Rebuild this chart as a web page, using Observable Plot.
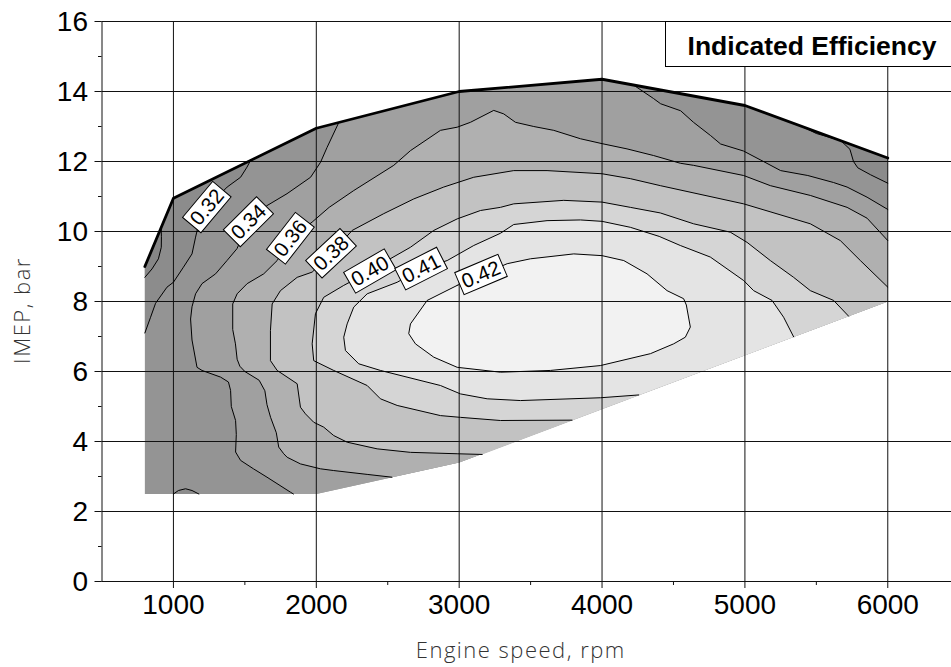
<!DOCTYPE html>
<html><head><meta charset="utf-8">
<script src="https://cdn.jsdelivr.net/npm/d3@7"></script>
<script src="https://cdn.jsdelivr.net/npm/@observablehq/plot@0.6"></script>
<style>
body{margin:0;background:#fff;}
#chart{position:relative;width:951px;height:667px;}
</style></head><body><div id="chart"></div>
<script>
// ---------- data ----------
const xTicks = [1000, 2000, 3000, 4000, 5000, 6000];
const xMinor = [1500, 2500, 3500, 4500, 5500];
const yTicks = [0, 2, 4, 6, 8, 10, 12, 14, 16];
const yMinor = [1, 3, 5, 7, 9, 11, 13, 15];

// envelope of the measured map [rpm, IMEP]
const topEdge = [[800,9.0],[1000,10.95],[2000,12.95],[3000,14.0],[4000,14.35],[5000,13.6],[6000,12.1]];
const bottomEdge = [[6000,8.0],[3000,3.4],[2000,2.5],[800,2.5]];

// iso-efficiency lines [rpm, IMEP]
const c030 = [[800,8.69],[850,8.93],[895,9.22],[915,9.55],[916,9.85],[914,10.11]];
const c032L = [[800,7.1],[840,7.55],[875,7.95],[955,8.41],[1000,8.55],[1070,8.98],[1130,9.36],[1155,9.84],[1170,10.1],[1236,10.69],[1376,11.27],[1470,11.55],[1515,11.84],[1540,12.03]];
const c032B = [[1000,2.5],[1035,2.6],[1085,2.65],[1130,2.6],[1178,2.5]];
const c032R = [[5410,12.98],[5500,12.8],[5670,12.6],[5735,12.35],[5760,12.0],[5790,11.82],[5880,11.62],[6000,11.38]];
const c034 = [[1840,2.5],[1820,2.55],[1655,2.98],[1560,3.22],[1470,3.46],[1435,3.7],[1440,4.2],[1435,4.6],[1405,5.0],[1400,5.46],[1385,5.7],[1330,5.84],[1200,6.03],[1165,6.12],[1130,6.9],[1120,7.5],[1130,7.85],[1155,8.22],[1200,8.51],[1295,8.79],[1375,9.17],[1445,9.51],[1527,10.27],[1655,10.74],[1795,11.08],[1960,11.55],[2030,11.98],[2075,12.4],[2157,13.11]];
const c034R = [[4222,14.18],[4360,13.8],[4410,13.65],[4550,13.45],[4640,13.12],[4760,12.74],[4830,12.5],[4990,12.3],[5130,12.0],[5250,11.74],[5440,11.6],[5620,11.4],[5715,11.27],[5855,10.98],[6000,10.63]];
const c036 = [[2529,2.98],[2356,3.06],[2122,3.17],[2029,3.22],[1889,3.36],[1796,3.55],[1772,3.65],[1737,3.84],[1720,4.25],[1680,4.69],[1655,5.05],[1640,5.45],[1600,5.75],[1500,6.0],[1465,6.15],[1446,6.35],[1434,6.79],[1415,7.2],[1415,7.93],[1446,8.22],[1516,8.51],[1632,8.79],[1726,9.17],[1821,9.8],[1971,10.27],[2090,10.69],[2262,11.17],[2542,11.89],[2659,12.31],[2869,12.89],[2986,12.98],[3079,13.12],[3242,13.46],[3312,13.36],[3394,13.12],[3522,13.0],[3662,12.89],[3849,12.65],[4000,12.51],[4175,12.36],[4361,12.17],[4548,11.95],[4641,11.89],[4991,11.6],[5178,11.31],[5458,11.03],[5715,10.69],[5855,10.38],[6000,9.74]];
const c038 = [[3161,3.63],[2986,3.65],[2659,3.69],[2426,3.79],[2216,3.98],[2122,4.17],[2052,4.41],[1982,4.55],[1924,4.79],[1889,4.98],[1866,5.65],[1726,6.03],[1679,6.31],[1679,7.17],[1691,7.93],[1749,8.31],[1866,8.69],[1971,8.84],[2105,9.37],[2251,10.03],[2472,10.51],[2682,10.93],[2892,11.27],[3102,11.55],[3382,11.74],[3615,11.74],[4000,11.65],[4198,11.51],[4408,11.31],[4991,10.79],[5458,10.22],[5668,9.74],[5808,9.17],[6000,8.41]];
const c040 = [[3790,4.61],[3289,4.6],[3009,4.69],[2869,4.74],[2566,5.03],[2449,5.22],[2356,5.6],[2122,6.03],[1982,6.31],[1971,6.79],[1994,7.65],[2052,8.12],[2192,8.46],[2377,8.86],[2496,9.17],[2659,9.55],[2822,10.03],[2986,10.36],[3149,10.6],[3289,10.69],[3382,10.79],[3732,10.89],[4000,10.84],[4198,10.69],[4408,10.53],[4641,10.22],[4898,9.98],[5015,9.69],[5178,9.17],[5341,8.69],[5458,8.31],[5621,8.03],[5726,7.58]];
const c041 = [[4257,5.33],[3989,5.25],[3429,5.17],[3196,5.22],[3009,5.36],[2869,5.6],[2449,6.03],[2297,6.22],[2204,6.6],[2192,6.98],[2216,7.36],[2262,7.84],[2356,8.22],[2566,8.55],[2735,8.93],[2916,9.17],[3102,9.6],[3289,9.95],[3382,10.2],[3615,10.31],[3849,10.33],[4000,10.29],[4198,10.12],[4400,9.86],[4548,9.6],[4758,9.27],[4991,8.6],[5061,8.31],[5190,8.03],[5271,7.55],[5341,6.99]];
const c042 = [[2986,8.46],[2776,8.03],[2659,7.36],[2647,7.08],[2694,6.79],[2822,6.41],[2986,6.12],[3289,5.98],[3639,6.03],[3989,6.17],[4339,6.51],[4501,6.79],[4583,6.98],[4618,7.27],[4590,7.9],[4571,8.08],[4455,8.31],[4315,8.79],[4152,9.17],[4000,9.31],[3802,9.36],[3499,9.22],[3336,9.08],[3154,8.76]];

// contour labels
const labelText  = ["0.32","0.34","0.36","0.38","0.40","0.41","0.42"];
const labelRpm   = [1236, 1527, 1821, 2105, 2377, 2735, 3154];
const labelImep  = [10.69, 10.27, 9.8, 9.37, 8.86, 8.93, 8.76];
const labelAngle = [-50, -45, -52, -43, -30, -27, -23];

const titleText = "Indicated Efficiency";
const xLabel = "Engine speed, rpm";
const yLabel = "IMEP, bar";

// ---------- build ----------
const W = 951, H = 667;
const tickFont = "'Liberation Sans', Arial, sans-serif";
const titleFont = "'Open Sans', 'Noto Sans', sans-serif";
const xy = {x: d => d[0], y: d => d[1]};
const area = (pts, fill) => Plot.line(pts, {...xy, fill, stroke: "none"});
const iso = (pts, sw = 1) => Plot.line(pts, {...xy, stroke: "#000", strokeWidth: sw, strokeLinejoin: "round", strokeLinecap: "round"});

const envelope = [...topEdge, ...bottomEdge];
const low32L = [...c032L, [1000,10.95], [800,9.0]];
const low30 = [...c030, [800,9.0]];
const low32R = [...c032R, [6000,12.1]];
const hi34 = [...c034, [3000,14.0], [4000,14.35], ...c034R, ...bottomEdge.slice(0, 3)];
const hi36 = [...c036, ...bottomEdge.slice(0, 2)];
const hi38 = [...c038, bottomEdge[0]];

const labels = labelText.map((t, i) => ({t, x: labelRpm[i], y: labelImep[i], a: labelAngle[i]}));

const plot = Plot.plot({
  width: W, height: H,
  marginLeft: 101.5, marginRight: 0, marginTop: 21, marginBottom: 86,
  x: {domain: [500, 6446]},
  y: {domain: [0, 16]},
  style: {fontFamily: tickFont, fontSize: "28px", color: "#000", background: "#fff", overflow: "visible"},
  marks: [
    area(envelope, "#949494"),
    area(low32L, "#8c8c8c"),
    area(low30, "#868686"),
    area(c032B, "#8c8c8c"),
    area(low32R, "#8b8b8b"),
    area(hi34, "#a0a0a0"),
    area(hi36, "#b0b0b0"),
    area(hi38, "#c2c2c2"),
    area(c040, "#d5d5d5"),
    area(c041, "#e4e4e4"),
    area(c042, "#f2f2f2"),
    Plot.gridX(xTicks, {stroke: "#111", strokeOpacity: 1, strokeWidth: 1}),
    Plot.gridY(yTicks, {stroke: "#111", strokeOpacity: 1, strokeWidth: 1}),
    iso(c030), iso(c032L), iso(c032B), iso(c032R), iso(c034), iso(c034R),
    iso(c036), iso(c038), iso(c040), iso(c041), iso([...c042, c042[0]]),
    iso(topEdge, 2.8),
    Plot.ruleX([500], {stroke: "#111"}),
    Plot.ruleY([0], {stroke: "#111"}),
    Plot.axisX({ticks: xTicks, tickSize: 7, tickFormat: () => "", label: null, stroke: "#111"}),
    Plot.axisX({ticks: xMinor, tickSize: 4, tickFormat: () => "", label: null, stroke: "#111"}),
    Plot.axisY({ticks: yTicks, tickSize: 7, tickFormat: () => "", label: null, stroke: "#111"}),
    Plot.axisY({ticks: yMinor, tickSize: 3.5, tickFormat: () => "", label: null, stroke: "#111"}),
    Plot.text(xTicks, {x: d => d, text: d => String(d), frameAnchor: "bottom", lineAnchor: "top",
      textAnchor: "middle", dy: 13, fontSize: 28, fontFamily: tickFont, fill: "#000"}),
    Plot.text(yTicks, {y: d => d, text: d => String(d), frameAnchor: "left", lineAnchor: "middle",
      textAnchor: "end", dx: -14, dy: 1, fontSize: 28, fontFamily: tickFont, fill: "#000"}),
    Plot.text(labels, {x: "x", y: "y", text: "t", rotate: "a", fontSize: 20.5, fill: "#000",
      fontFamily: tickFont}),
    Plot.text([xLabel], {text: d => d, frameAnchor: "bottom", lineAnchor: "middle", textAnchor: "middle",
      dx: -6, dy: 69, fontSize: 22, fontFamily: titleFont, fontWeight: 300, fill: "#333"}),
    Plot.text([yLabel], {text: d => d, frameAnchor: "left", lineAnchor: "middle", textAnchor: "middle",
      rotate: -90, dx: -79, dy: 9, fontSize: 22, fontFamily: titleFont, fontWeight: 300, fill: "#333"}),
    Plot.text([titleText], {text: d => d, frameAnchor: "top-right", lineAnchor: "middle", textAnchor: "middle",
      dx: -139.5, dy: 25.5, fontSize: 26.5, fontWeight: "bold", fill: "#000", fontFamily: tickFont})
  ]
});

document.getElementById("chart").appendChild(plot);

// white boxes behind contour labels and the title; wider tracking for axis titles
const svg = d3.select(plot);
svg.selectAll("text").each(function () {
  const s = this.textContent;
  if (labelText.includes(s)) {
    const b = this.getBBox();
    this.parentNode.insertBefore(
      d3.create("svg:rect")
        .attr("x", b.x - 3.5).attr("y", b.y).attr("width", b.width + 7).attr("height", b.height + 1)
        .attr("transform", this.getAttribute("transform"))
        .attr("fill", "#fff").attr("stroke", "#000").attr("stroke-width", 1).node(),
      this);
  } else if (s === titleText) {
    const g = this.parentNode;
    g.parentNode.insertBefore(
      d3.create("svg:rect")
        .attr("x", 665.5).attr("y", 21.5).attr("width", 300).attr("height", 45)
        .attr("fill", "#fff").attr("stroke", "#000").attr("stroke-width", 1).node(),
      g);
  } else if (s === xLabel || s === yLabel) {
    this.style.letterSpacing = "1.5px";
  }
});
</script>
</body></html>
